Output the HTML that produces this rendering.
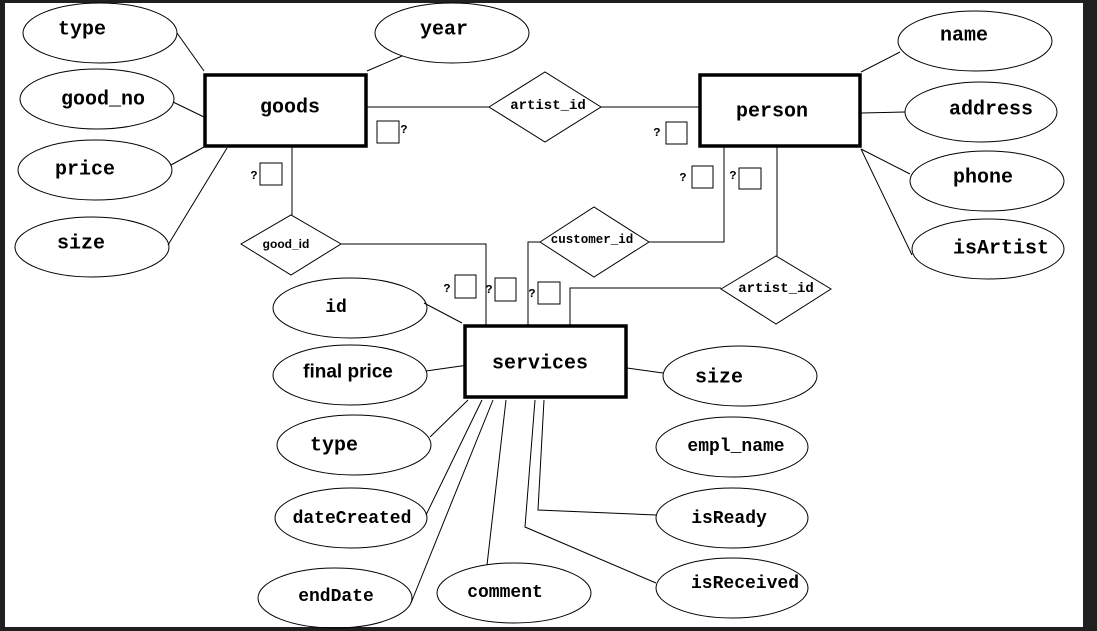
<!DOCTYPE html>
<html><head><meta charset="utf-8"><style>
html,body{margin:0;padding:0;background:#1f1f1f;width:1097px;height:631px;overflow:hidden}
svg{display:block}
text{font-family:"Liberation Mono",monospace;font-weight:bold;fill:#000;text-anchor:middle;dominant-baseline:central}
.s{font-family:"Liberation Sans",sans-serif}
</style></head><body>
<svg width="1097" height="631" viewBox="0 0 1097 631">
<rect x="5" y="3" width="1078" height="624" fill="#fff"/>
<g fill="none" stroke="#000" stroke-width="1">
<!-- goods attrs -->
<ellipse cx="100" cy="33" rx="77" ry="30"/>
<ellipse cx="97" cy="99" rx="77" ry="30"/>
<ellipse cx="95" cy="170" rx="77" ry="30"/>
<ellipse cx="92" cy="247" rx="77" ry="30"/>
<ellipse cx="452" cy="33" rx="77" ry="30"/>
<line x1="177" y1="33" x2="204" y2="71"/>
<line x1="173" y1="102" x2="204" y2="117"/>
<line x1="171" y1="165" x2="204" y2="147"/>
<line x1="168" y1="245" x2="227" y2="148"/>
<line x1="402" y1="56" x2="367" y2="71"/>
<!-- person attrs -->
<ellipse cx="975" cy="41" rx="77" ry="30"/>
<ellipse cx="981" cy="112" rx="76" ry="30"/>
<ellipse cx="987" cy="181" rx="77" ry="30"/>
<ellipse cx="988" cy="249" rx="76" ry="30"/>
<line x1="900" y1="52" x2="861" y2="72"/>
<line x1="861" y1="113" x2="905" y2="112"/>
<line x1="861" y1="149" x2="910" y2="174"/>
<line x1="861" y1="149" x2="912" y2="255"/>
<!-- relations -->
<line x1="367" y1="107" x2="489" y2="107"/>
<line x1="601" y1="107" x2="699" y2="107"/>
<polygon points="489,107 545,72 601,107 545,142"/>
<line x1="292" y1="147" x2="292" y2="215"/>
<polygon points="241,244 291,215 341,244 291,275"/>
<polyline points="341,244 486,244 486,325"/>
<polygon points="540,242 594,207 649,242 594,277"/>
<polyline points="540,242 528,242 528,325"/>
<polyline points="649,242 724,242 724,147"/>
<line x1="777" y1="147" x2="777" y2="256"/>
<polygon points="721,289 776,256 831,289 776,324"/>
<polyline points="721,288 570,288 570,325"/>
<!-- small boxes -->
<rect x="377" y="121" width="22" height="22"/>
<rect x="260" y="163" width="22" height="22"/>
<rect x="666" y="122" width="21" height="22"/>
<rect x="692" y="166" width="21" height="22"/>
<rect x="739" y="168" width="22" height="21"/>
<rect x="455" y="275" width="21" height="23"/>
<rect x="495" y="278" width="21" height="23"/>
<rect x="538" y="282" width="22" height="22"/>
<!-- services attrs -->
<ellipse cx="350" cy="308" rx="77" ry="30"/>
<ellipse cx="350" cy="375" rx="77" ry="30"/>
<ellipse cx="354" cy="445" rx="77" ry="30"/>
<ellipse cx="351" cy="518" rx="76" ry="30"/>
<ellipse cx="335" cy="598" rx="77" ry="30"/>
<ellipse cx="514" cy="593" rx="77" ry="30"/>
<ellipse cx="740" cy="376" rx="77" ry="30"/>
<ellipse cx="732" cy="447" rx="76" ry="30"/>
<ellipse cx="732" cy="518" rx="76" ry="30"/>
<ellipse cx="732" cy="588" rx="76" ry="30"/>
<line x1="424" y1="303" x2="462" y2="323"/>
<line x1="426" y1="371" x2="468" y2="365"/>
<line x1="627" y1="368" x2="663" y2="373"/>
<line x1="430" y1="437" x2="468" y2="400"/>
<line x1="426" y1="515" x2="482" y2="400"/>
<line x1="411" y1="603" x2="493" y2="400"/>
<line x1="487" y1="565" x2="506" y2="400"/>
<polyline points="656,583 525,527 535,400"/>
<polyline points="656,515 538,510 544,400"/>
</g>
<g fill="#fff" stroke="#000" stroke-width="3.5">
<rect x="205" y="75" width="161" height="71"/>
<rect x="700" y="75" width="160" height="71"/>
<rect x="465" y="326" width="161" height="71"/>
</g>
<g font-size="20">
<text x="82" y="30">type</text>
<text x="103" y="100">good_no</text>
<text x="85" y="170">price</text>
<text x="81" y="244">size</text>
<text x="444" y="30">year</text>
<text x="290" y="108">goods</text>
<text x="772" y="112">person</text>
<text x="964" y="36">name</text>
<text x="991" y="110">address</text>
<text x="983" y="178">phone</text>
<text x="1001" y="249">isArtist</text>
<text x="540" y="364">services</text>
<text x="719" y="378">size</text>
<text x="334" y="446">type</text>
</g>
<g font-size="18">
<text x="336" y="308">id</text>
<text x="352" y="519">dateCreated</text>
<text x="336" y="597">endDate</text>
<text x="505" y="593">comment</text>
<text x="736" y="447">empl_name</text>
<text x="729" y="519">isReady</text>
<text x="745" y="584">isReceived</text>
</g>
<text class="s" x="348" y="372" font-size="19">final price</text>
<text x="548" y="106" font-size="14">artist_id</text>
<text x="776" y="289" font-size="14">artist_id</text>
<text x="592" y="240" font-size="12.5">customer_id</text>
<text class="s" x="286" y="244" font-size="12">good_id</text>
<g font-size="12">
<text x="404" y="130">?</text>
<text x="254" y="176">?</text>
<text x="657" y="133">?</text>
<text x="683" y="178">?</text>
<text x="733" y="176">?</text>
<text x="447" y="289">?</text>
<text x="489" y="290">?</text>
<text x="532" y="294">?</text>
</g>
</svg>
</body></html>
